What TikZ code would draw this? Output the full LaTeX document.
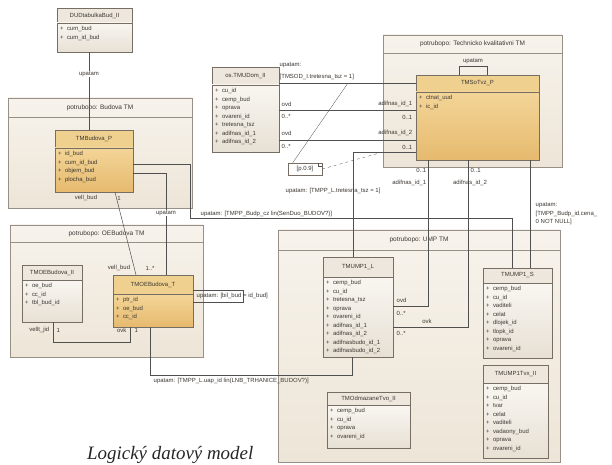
\documentclass[tikz,border=0pt]{standalone}
\usepackage{fontspec}
\setmainfont{Liberation Sans}
\newfontfamily\capfont{Liberation Serif}
\usetikzlibrary{positioning,fit}

\definecolor{pkgline}{RGB}{150,144,134}
\definecolor{pkgtop}{RGB}{247,243,236}
\definecolor{pkgbot}{RGB}{237,229,215}
\definecolor{clsline}{RGB}{118,110,98}
\definecolor{goldhd}{RGB}{240,208,142}
\definecolor{goldtop}{RGB}{243,213,152}
\definecolor{goldbot}{RGB}{230,186,110}
\definecolor{plainhd}{RGB}{237,231,221}
\definecolor{plaintop}{RGB}{249,246,241}
\definecolor{plainbot}{RGB}{231,224,212}
\definecolor{lnk}{RGB}{80,80,80}
\definecolor{txt}{RGB}{60,55,50}

\newcommand{\col}[1]{\par\makebox[7bp][l]{+}#1}
% #1 name, #2 look (gold/plain), #3 north west corner, #4 width,
% #5 header height, #6 body height, #7 table name, #8 columns
\newcommand{\dbtable}[8]{%
  \node[#2 head, minimum width=#4, minimum height=#5, anchor=north west] (#1) at (#3) {#7};
  \node[#2 body, below=0pt of #1] (#1-c)
    {\parbox[c][#6][t]{#4}{\vspace*{3.5bp}\leftskip=3bp\relax #8}};
  \node[fit=(#1)(#1-c), inner sep=0pt] (#1-box) {};
}
% #1 name, #2 north west, #3 south east, #4 header height, #5 title
\newcommand{\pkgframe}[5]{%
  \node[pkg, fit={(#2) (#3)}] (#1) {};
  \draw[pkg line] ([yshift=-#4]#1.north west) -- ([yshift=-#4]#1.north east);
  \node[pkg title] (#1-t) at ([yshift=-#4/2]#1.north) {#5};
}

\tikzset{
  pkg/.style={draw=pkgline, line width=0.9bp, top color=pkgtop, bottom color=pkgbot,
    inner sep=0pt, outer sep=0pt},
  pkg line/.style={draw=pkgline, line width=0.6bp},
  pkg title/.style={font=\fontsize{6.5}{7}\selectfont, text=txt, inner sep=0pt},
  tbl/.style={draw=clsline, line width=0.6bp, inner sep=0pt, outer sep=0pt, text=txt,
    font=\fontsize{6}{8.5}\selectfont},
  gold head/.style={tbl, fill=goldhd},
  gold body/.style={tbl, top color=goldtop, bottom color=goldbot},
  plain head/.style={tbl, fill=plainhd},
  plain body/.style={tbl, top color=plaintop, bottom color=plainbot},
  conn/.style={draw=lnk, line width=0.5bp},
  lbl/.style={font=\fontsize{6}{8.5}\selectfont, text=txt, inner sep=0.5bp},
  note/.style={draw=clsline, fill=white, line width=0.5bp, minimum width=34bp,
    minimum height=12bp, inner sep=0pt, font=\fontsize{6}{7}\selectfont, text=txt},
}

\begin{document}
\begin{tikzpicture}[x=1bp, y=-1bp]
\useasboundingbox[fill=white] (0,0) rectangle (612,465);

% packages
\pkgframe{pkgBud}{8,98}{192,208}{19bp}{potrubopo: Budova TM}
\pkgframe{pkgOE}{10,225}{203,357}{17bp}{potrubopo: OEBudova TM}
\pkgframe{pkgTK}{383,35}{562,167}{18bp}{potrubopo: Technicko kvalitativni TM}
\pkgframe{pkgUMP}{278,230}{560,462}{20bp}{potrubopo: UMP TM}

% tables
\dbtable{dud}{plain}{57,8}{75bp}{15bp}{29bp}{DUDtabulkaBud\_II}
  {\col{cum\_bud}\col{cum\_id\_bud}}
\dbtable{budP}{gold}{55,130}{78bp}{18bp}{44bp}{TMBudova\_P}
  {\col{id\_bud}\col{cum\_id\_bud}\col{objem\_bud}\col{plocha\_bud}}
\dbtable{oeII}{plain}{22,265}{60bp}{15bp}{42bp}{TMOEBudova\_II}
  {\col{oe\_bud}\col{cc\_id}\col{tbl\_bud\_id}}
\dbtable{oeT}{gold}{113,275}{80bp}{19bp}{33bp}{TMOEBudova\_T}
  {\col{ptr\_id}\col{oe\_bud}\col{cc\_id}}
\dbtable{osD}{plain}{212,67}{67bp}{18bp}{67bp}{os.TMUDom\_II}
  {\col{cu\_id}\col{cemp\_bud}\col{oprava}\col{ovareni\_id}\col{tretesna\_tsz}
   \col{adifnas\_id\_1}\col{adifnas\_id\_2}}
\dbtable{soP}{gold}{416,75}{123bp}{17bp}{68bp}{TMSoTvz\_P}
  {\col{ctnat\_uud}\col{ic\_id}}
\dbtable{umpL}{plain}{323,257}{70bp}{20bp}{80bp}{TMUMP1\_L}
  {\col{cemp\_bud}\col{cu\_id}\col{tretesna\_tsz}\col{oprava}\col{ovareni\_id}
   \col{adifnas\_id\_1}\col{adifnas\_id\_2}\col{adifnasbudo\_id\_1}\col{adifnasbudo\_id\_2}}
\dbtable{umpS}{plain}{483,268}{69bp}{15bp}{75bp}{TMUMP1\_S}
  {\col{cemp\_bud}\col{cu\_id}\col{vaditeli}\col{celat}\col{dlojek\_id}\col{tlopk\_id}
   \col{oprava}\col{ovareni\_id}}
\dbtable{umpTv}{plain}{483,365}{65bp}{18bp}{75bp}{TMUMP1Tvx\_II}
  {\col{cemp\_bud}\col{cu\_id}\col{tvar}\col{celat}\col{vaditeli}\col{vadaony\_bud}
   \col{oprava}\col{ovareni\_id}}
\dbtable{odm}{plain}{327,392}{83bp}{13bp}{43bp}{TMOdmazaneTvo\_II}
  {\col{cemp\_bud}\col{cu\_id}\col{oprava}\col{ovareni\_id}}

% note
\node[note] (nt) at (305,169) {[p.0.9]};
\draw[conn] ([xshift=-4bp]nt.north east) |- ([yshift=-4bp]nt.north east);
\coordinate (c-tre) at (348,83);
\coordinate (c-lnk) at (383,152);
\draw[conn, line width=0.3bp] ([xshift=5bp]nt.north west) -- (c-tre);
\draw[conn, dashed, line width=0.3bp] (nt.east) -- (c-lnk);

% connectors
\draw[conn] (dud-box.south -| 89,0) -- (budP-box.north -| 89,0);
\node[lbl, fill=white] (l-dud) at (89,74) {upatam};

\draw[conn] (budP-box.east |- 0,164) -| (190,218) -| (umpS-box.north -| 512,0);
\node[lbl, anchor=west] (l-bud) at (200,214) {upatam: [TMPP\_Budp\_cz lin(SenDuo\_BUDOV?)]};

\draw[conn] (budP-box.east |- 0,173) -| (oeT-box.north -| 166,0);
\node[lbl, fill=white] (l-oe) at (166,213) {upatam};

\draw[conn] (budP-box.south -| 115,0) -- (oeT-box.north -| 136,0);
\node[lbl] (m1) at (86,198) {vell\_bud};
\node[lbl] (m2) at (119,198) {1};
\node[lbl] (m3) at (119,268) {vell\_bud};
\node[lbl] (m4) at (150,268) {1..*};

\draw[conn] (oeII-box.south -| 53,0) -- (53,342) -- (130,342) -- (oeT-box.south -| 130,0);
\node[lbl, anchor=east] (m5) at (50,330) {vellt\_jid};
\node[lbl, anchor=west] (m6) at (56,330) {1};
\node[lbl, anchor=east] (m7) at (127,330) {ovk};
\node[lbl, anchor=west] (m8) at (134,330) {1};

\draw[conn] (oeT-box.east |- 0,290) -- (243,290) -- (243,302) -- (oeT-box.east |- 0,302);
\node[lbl, anchor=west] (l-self1) at (196,296) {upatam: [bil\_bud = id\_bud]};

\draw[conn] (oeT-box.south -| 150,0) |- (352,375) -- (umpL-box.south -| 352,0);
\node[lbl, anchor=west] (l-trh) at (153,381) {upatam: [TMPP\_L.uap\_id lin(LNB\_TRHANICE\_BUDOV?)]};

\draw[conn] (osD-box.east |- 0,83) -- (soP-box.west |- 0,83);
\node[lbl, anchor=west] (l-tk1) at (279,65) {upatam:};
\node[lbl, anchor=west] (l-tk2) at (279,77) {[TMSOD\_I.tretesna\_tsz = 1]};

\draw[conn] (osD-box.east |- 0,110) -- (soP-box.west |- 0,110);
\node[lbl, anchor=west] (m9) at (281,104) {ovd};
\node[lbl, anchor=west] (m10) at (281,116) {0..*};
\node[lbl, anchor=east] (m11) at (413,104) {adifnas\_id\_1};
\node[lbl, anchor=east] (m12) at (413,117) {0..1};

\draw[conn] (osD-box.east |- 0,140) -- (soP-box.west |- 0,140);
\node[lbl, anchor=west] (m13) at (281,133) {ovd};
\node[lbl, anchor=west] (m14) at (281,146) {0..*};
\node[lbl, anchor=east] (m15) at (413,133) {adifnas\_id\_2};
\node[lbl, anchor=east] (m16) at (413,147) {0..1};

\draw[conn] (soP-box.west |- 0,152) -| (umpL-box.north -| 353,0);
\node[lbl, anchor=west] (l-tre) at (285,191) {upatam: [TMPP\_L.tretesna\_tsz = 1]};

\draw[conn] (soP-box.north -| 459,0) -- (459,66) -- (487,66) -- (soP-box.north -| 487,0);
\node[lbl] (l-self2) at (473,61) {upatam};

\draw[conn] (umpL-box.east |- 0,306) -| (soP-box.south -| 428,0);
\node[lbl, anchor=west] (m17) at (396,300) {ovd};
\node[lbl, anchor=west] (m18) at (396,313) {0..*};
\node[lbl, anchor=east] (m19) at (427,170) {0..1};
\node[lbl, anchor=east] (m20) at (427,183) {adifnas\_id\_1};

\draw[conn] (umpL-box.east |- 0,327) -| (soP-box.south -| 468,0);
\node[lbl] (m21) at (427,321) {ovk};
\node[lbl, anchor=west] (m22) at (396,333) {0..*};
\node[lbl, anchor=west] (m23) at (470,170) {0..1};
\node[lbl] (m24) at (470,183) {adifnas\_id\_2};

\draw[conn] (soP-box.south -| 530,0) -- (umpS-box.north -| 530,0);
\node[lbl, anchor=north west, align=left] (l-ump) at (535,202)
  {upatam:\\{}[TMPP\_Budp\_id.cena\_\\0 NOT NULL]};

% caption
\node[anchor=base west, inner sep=0pt, text=black!85,
  font=\capfont\itshape\fontsize{19}{21}\selectfont] (cap) at (87,459) {Logický datový model};
\end{tikzpicture}
\end{document}
